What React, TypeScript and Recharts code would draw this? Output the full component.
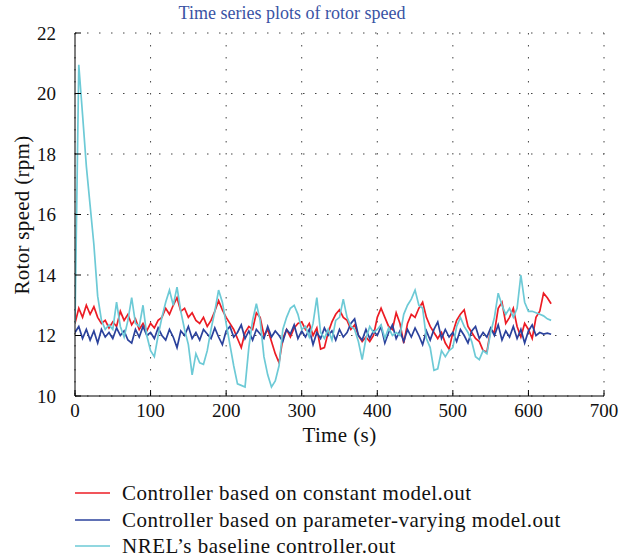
import React from 'react'
import { LineChart, Line, XAxis, YAxis, CartesianGrid } from 'recharts'

// time axis (s), one sample every 5 s
const TIME = [
  0, 5, 10, 15, 20, 25, 30, 35, 40, 45,
  50, 55, 60, 65, 70, 75, 80, 85, 90, 95,
  100, 105, 110, 115, 120, 125, 130, 135, 140, 145,
  150, 155, 160, 165, 170, 175, 180, 185, 190, 195,
  200, 205, 210, 215, 220, 225, 230, 235, 240, 245,
  250, 255, 260, 265, 270, 275, 280, 285, 290, 295,
  300, 305, 310, 315, 320, 325, 330, 335, 340, 345,
  350, 355, 360, 365, 370, 375, 380, 385, 390, 395,
  400, 405, 410, 415, 420, 425, 430, 435, 440, 445,
  450, 455, 460, 465, 470, 475, 480, 485, 490, 495,
  500, 505, 510, 515, 520, 525, 530, 535, 540, 545,
  550, 555, 560, 565, 570, 575, 580, 585, 590, 595,
  600, 605, 610, 615, 620, 625, 630,
]

const CONSTANT_MODEL = [
  12.4, 12.9, 12.6, 13.0, 12.7, 12.95, 12.6, 12.4, 12.5, 12.25,
  12.45, 12.3, 12.8, 12.5, 12.7, 12.35, 12.55, 12.2, 12.4, 12.15,
  12.4, 12.25, 12.5, 12.6, 12.9, 12.7, 13.0, 13.25, 12.8, 12.9,
  12.6, 12.75, 12.5, 12.4, 12.6, 12.3, 12.5, 12.8, 13.15, 12.85,
  12.6, 12.4, 12.2, 11.9, 11.6, 12.1, 12.3, 12.2, 12.75, 12.6,
  12.0, 12.2, 11.8, 11.4, 11.1, 11.9, 12.2, 11.95, 12.25, 12.4,
  12.45, 12.2, 12.4, 12.0, 12.25, 11.55, 11.6, 12.1, 12.45, 12.7,
  12.85, 12.6, 12.5, 12.2, 12.35, 12.0, 11.8, 11.95, 11.8, 12.0,
  12.6, 12.9, 12.6, 12.3, 12.2, 12.75, 12.4, 11.75, 12.4, 12.7,
  12.6, 12.9, 13.1, 12.6, 12.3, 12.1, 11.9, 12.1, 11.75, 11.55,
  12.1, 12.5, 12.7, 12.85, 12.3, 12.1, 11.9, 11.8, 11.5, 11.45,
  12.2, 12.1, 12.9, 13.1, 12.4, 12.6, 12.9, 12.3, 11.95, 12.4,
  12.2, 11.9, 12.6, 12.8, 13.4, 13.25, 13.05,
]

const VARYING_MODEL = [
  12.1, 12.3, 11.9, 12.2, 11.85, 12.15, 11.75, 12.2, 11.95, 12.1,
  11.9, 12.25, 12.0, 12.15, 11.85, 11.75, 12.2, 11.95, 12.3, 12.0,
  12.1, 11.9, 12.25, 12.0, 11.85, 12.2, 11.95, 11.6, 12.15, 12.0,
  12.3, 11.9, 12.1, 11.85, 12.2, 12.05, 11.9, 12.25, 11.95, 11.7,
  12.15, 12.3, 11.95, 12.1, 12.35, 11.9, 12.15, 11.85, 12.2, 12.05,
  11.9, 12.3, 11.95, 12.15, 12.0, 11.8, 12.2, 12.05, 12.35, 11.9,
  12.15, 11.95, 12.2, 11.7, 12.1, 11.9, 12.25, 12.0, 12.15, 11.85,
  12.2, 11.95, 12.1, 12.4, 12.55, 12.0, 11.85, 12.2, 11.9, 12.15,
  12.0, 12.3, 11.75, 12.1, 12.35, 11.9, 12.15, 11.8, 12.2, 11.95,
  12.25, 12.0, 11.7, 12.15, 11.85, 12.2, 12.45, 11.9, 12.2, 11.95,
  12.1, 11.8, 12.2, 12.0, 11.75, 12.15, 12.3, 11.9, 12.1, 11.95,
  12.25, 12.0, 12.35, 11.85, 12.15, 11.95, 12.3, 11.9, 12.2, 11.75,
  12.15, 12.35, 12.0, 12.1, 12.05, 12.08, 12.04,
]

const NREL_BASELINE = [
  12.4, 20.95, 19.3, 17.6, 16.3, 15.0, 13.3, 12.5, 12.2, 12.35,
  12.2, 13.1, 12.3, 11.95, 12.5, 13.25, 12.4, 12.3, 13.0, 12.0,
  11.5, 11.3, 12.0, 12.6, 13.1, 13.5, 13.0, 13.6, 12.8, 12.2,
  11.7, 10.7, 11.4, 11.1, 11.05, 11.5, 12.2, 12.8, 13.5, 13.1,
  12.4, 11.7, 11.0, 10.4, 10.35, 10.3, 11.6, 12.5, 13.05, 12.5,
  11.3, 10.7, 10.3, 10.5, 11.0, 12.2, 12.6, 12.9, 13.0, 12.7,
  12.2, 12.3, 11.95, 12.4, 13.25, 12.1, 11.9, 12.2, 11.85, 12.5,
  12.6, 13.2, 12.6, 12.3, 12.2, 11.8, 11.2, 11.9, 12.3, 12.1,
  12.2, 12.35, 11.9, 12.25, 12.0, 12.1, 12.0, 12.7, 13.0, 13.2,
  13.5, 13.0, 12.9, 11.9, 11.6, 10.85, 10.9, 11.5, 11.3, 11.5,
  11.6, 12.3, 12.6, 12.3, 12.1, 11.8, 11.3, 11.2, 11.5, 11.4,
  12.1, 12.6, 13.4, 13.0, 12.7, 12.9, 12.6, 12.9, 14.0, 13.1,
  12.8, 12.8, 12.75, 12.7, 12.65, 12.55, 12.5,
]

const X_TICKS = [0, 100, 200, 300, 400, 500, 600, 700]
const Y_TICKS = [10, 12, 14, 16, 18, 20, 22]

const SERIES = [
  { key: 'constant', label: 'Controller based on constant model.out', color: '#ec1c24' },
  { key: 'varying', label: 'Controller based on parameter-varying model.out', color: '#2b429c' },
  { key: 'nrel', label: 'NREL\u2019s baseline controller.out', color: '#6dcad6' },
]

const data = TIME.map((t, i) => ({
  t,
  constant: CONSTANT_MODEL[i],
  varying: VARYING_MODEL[i],
  nrel: NREL_BASELINE[i],
}))

const FONT = 'Liberation Serif'
const tickStyle = { fontFamily: FONT, fontSize: 19, fill: '#111' }
const noLabel = () => <g />

export default function App() {
  return (
    <div style={{ position: 'absolute', left: 0, top: 0, width: 623, height: 560, background: '#fff', fontFamily: FONT, color: '#111' }}>
      <div style={{ position: 'absolute', left: 0, width: 584, top: 3, textAlign: 'center', fontFamily: FONT, fontSize: 18, lineHeight: '20px', color: '#3953a4' }}>
        Time series plots of rotor speed
      </div>

      <div style={{ position: 'absolute', left: 0, top: 0 }}>
        <LineChart width={623} height={420} data={data} margin={{ top: 33, right: 19, bottom: 0, left: 15 }}>
          <CartesianGrid
            stroke="#444"
            strokeDasharray="1.5 10.5"
            horizontalValues={Y_TICKS}
            verticalValues={X_TICKS}
          />
          <XAxis
            dataKey="t"
            type="number"
            domain={[0, 700]}
            ticks={X_TICKS}
            allowDataOverflow
            height={24}
            stroke="#000"
            tickSize={-6}
            tickMargin={14}
            tick={tickStyle}
          />
          <XAxis
            xAxisId="top"
            orientation="top"
            dataKey="t"
            type="number"
            domain={[0, 700]}
            ticks={X_TICKS}
            allowDataOverflow
            height={0}
            stroke="#000"
            tickSize={-6}
            tick={noLabel}
          />
          <YAxis
            type="number"
            domain={[10, 22]}
            ticks={Y_TICKS}
            allowDataOverflow
            width={60}
            stroke="#000"
            tickSize={-6}
            tickMargin={25}
            tick={tickStyle}
          />
          <YAxis
            yAxisId="right"
            orientation="right"
            type="number"
            domain={[10, 22]}
            ticks={Y_TICKS}
            allowDataOverflow
            width={0}
            stroke="#000"
            tickSize={-6}
            tick={noLabel}
          />
          {SERIES.map(s => (
            <Line
              key={s.key}
              dataKey={s.key}
              type="linear"
              stroke={s.color}
              strokeWidth={1.7}
              dot={false}
              activeDot={false}
              isAnimationActive={false}
            />
          ))}
        </LineChart>
      </div>

      <div style={{ position: 'absolute', left: 0, width: 679, top: 423, textAlign: 'center', fontFamily: FONT, fontSize: 21, lineHeight: '24px', letterSpacing: 0.4 }}>
        Time (s)
      </div>
      <div style={{
        position: 'absolute', left: 22 - 120, top: 215 - 12, width: 240, height: 24,
        textAlign: 'center', fontFamily: FONT, fontSize: 21, lineHeight: '24px', letterSpacing: 0.3, transform: 'rotate(-90deg)',
      }}>
        Rotor speed (rpm)
      </div>

      {SERIES.map((s, i) => (
        <div key={s.key} style={{ position: 'absolute', left: 75, top: 481 + i * 26.5, height: 24, display: 'flex', alignItems: 'center' }}>
          <svg width={35} height={4} style={{ display: 'block' }}>
            <line x1={0} y1={2} x2={35} y2={2} stroke={s.color} strokeWidth={1.5} />
          </svg>
          <span style={{ marginLeft: 12, fontFamily: FONT, fontSize: 21, lineHeight: '24px', letterSpacing: 0.5, whiteSpace: 'nowrap' }}>{s.label}</span>
        </div>
      ))}
    </div>
  )
}
